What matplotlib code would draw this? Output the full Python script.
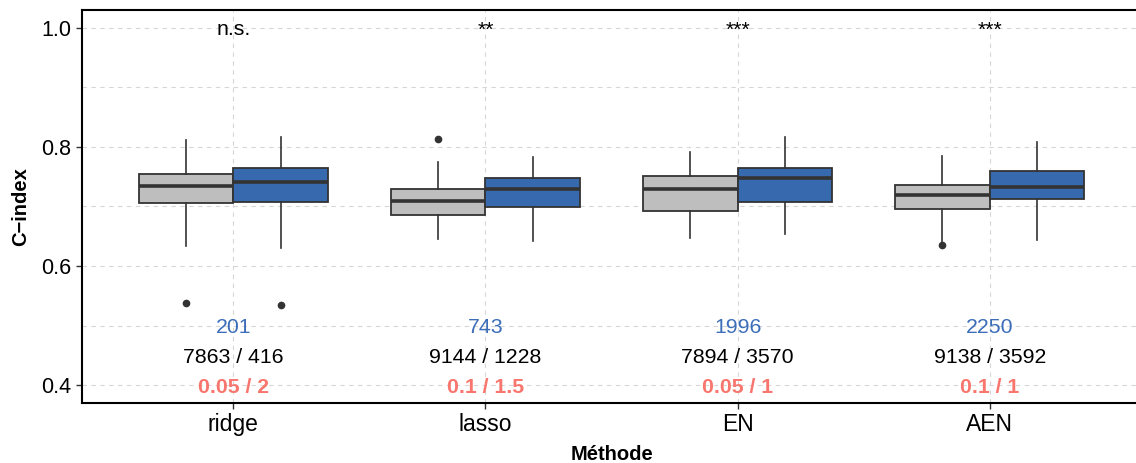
import matplotlib
matplotlib.use("Agg")
import matplotlib.pyplot as plt
from matplotlib.ticker import MultipleLocator

plt.rcParams['font.family'] = ['Liberation Sans', 'DejaVu Sans']

methods = ["ridge", "lasso", "EN", "AEN"]

# grey series (whisker low, Q1, median, Q3, whisker high)
grey_wlo = [0.634, 0.645, 0.647, 0.641]
grey_q1 = [0.706, 0.685, 0.693, 0.696]
grey_med = [0.735, 0.709, 0.729, 0.720]
grey_q3 = [0.755, 0.729, 0.751, 0.736]
grey_whi = [0.811, 0.775, 0.792, 0.785]
grey_out = [[0.538], [0.813], [], [0.636]]

# blue series
blue_wlo = [0.631, 0.642, 0.654, 0.644]
blue_q1 = [0.708, 0.699, 0.708, 0.713]
blue_med = [0.741, 0.729, 0.748, 0.733]
blue_q3 = [0.764, 0.748, 0.764, 0.760]
blue_whi = [0.816, 0.783, 0.816, 0.808]
blue_out = [[0.535], [], [], []]

sig_labels = ["n.s.", "**", "***", "***"]
blue_counts = ["201", "743", "1996", "2250"]
pair_labels = ["7863 / 416", "9144 / 1228", "7894 / 3570", "9138 / 3592"]
param_labels = ["0.05 / 2", "0.1 / 1.5", "0.05 / 1", "0.1 / 1"]

y_sig, y_count, y_pair, y_param = 1.0, 0.5, 0.45, 0.4

GREY = "#BEBEBE"
BLUE = "#3669AD"
EDGE = "#333333"

fig = plt.figure(figsize=(11.36, 4.63), dpi=100)
ax = fig.add_axes([82/1136, 60/463, (1141-82)/1136, (403-10)/463])

def stats(wlo, q1, med, q3, whi, out):
    return [dict(whislo=a, q1=b, med=c, q3=d, whishi=e, fliers=f)
            for a, b, c, d, e, f in zip(wlo, q1, med, q3, whi, out)]

w = 0.375
pos = list(range(1, len(methods) + 1))
for st, off, col in [
    (stats(grey_wlo, grey_q1, grey_med, grey_q3, grey_whi, grey_out), -w/2, GREY),
    (stats(blue_wlo, blue_q1, blue_med, blue_q3, blue_whi, blue_out), w/2, BLUE),
]:
    ax.bxp(st, positions=[p + off for p in pos], widths=w, patch_artist=True,
           showcaps=False,
           boxprops=dict(facecolor=col, edgecolor=EDGE, linewidth=1.3),
           medianprops=dict(color=EDGE, linewidth=2.6, solid_capstyle='butt'),
           whiskerprops=dict(color=EDGE, linewidth=1.2),
           flierprops=dict(marker='o', markerfacecolor=EDGE, markeredgecolor=EDGE,
                           markersize=4.5),
           zorder=3)

fs = 15.3
for i, p in enumerate(pos):
    ax.text(p, y_sig, sig_labels[i], ha='center', va='center_baseline', fontsize=fs, color='black', zorder=4)
    ax.text(p, y_count, blue_counts[i], ha='center', va='center_baseline', fontsize=fs, color='#3B6DB8', zorder=4)
    ax.text(p, y_pair, pair_labels[i], ha='center', va='center_baseline', fontsize=fs, color='black', zorder=4)
    ax.text(p, y_param, param_labels[i], ha='center', va='center_baseline', fontsize=fs, color='#F8766D',
            fontweight='bold', zorder=4)

ax.set_xlim(0.4, 4.6)
ax.set_ylim(0.37, 1.03)
ax.set_xticks(pos)
ax.set_xticklabels(methods)
ax.yaxis.set_major_locator(MultipleLocator(0.2))
ax.yaxis.set_minor_locator(MultipleLocator(0.1))
ax.yaxis.set_major_formatter(matplotlib.ticker.FormatStrFormatter('%.1f'))
ax.tick_params(axis='x', which='major', labelsize=16.5, length=4, width=1, color='#333333',
               labelcolor='black')
ax.tick_params(axis='y', which='major', labelsize=15.5, length=4, width=1, color='#333333',
               labelcolor='black')
ax.tick_params(axis='y', which='minor', length=0)

grid_kw = dict(color='#D6D6D6', linestyle=(0, (4, 4)), linewidth=0.8)
ax.grid(True, which='major', axis='both', **grid_kw)
ax.grid(True, which='minor', axis='y', **grid_kw)
ax.set_axisbelow(True)

for s in ax.spines.values():
    s.set_linewidth(1.5)
    s.set_color('black')
ax.spines['right'].set_visible(False)

ax.set_xlabel("Méthode", fontsize=14.5, fontweight='bold', labelpad=6)
ax.set_ylabel("C\u2212index", fontsize=14.5, fontweight='bold', labelpad=8)

fig.savefig("out.png", dpi=100)
